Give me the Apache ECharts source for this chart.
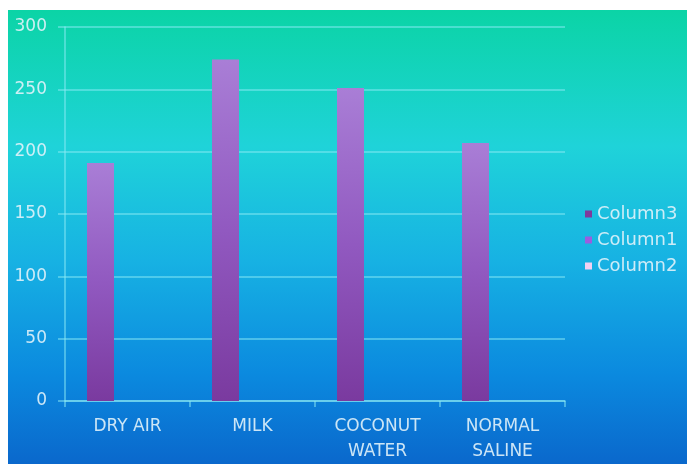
<!DOCTYPE html>
<html>
<head>
<meta charset="utf-8">
<script src="https://cdn.jsdelivr.net/npm/echarts@6/dist/echarts.min.js"></script>
<style>
  html, body { margin: 0; padding: 0; background: #ffffff; }
  #chart { width: 687px; height: 464px; }
</style>
</head>
<body>
<div id="chart"></div>
<script>
const categories = ['DRY AIR', 'MILK', 'COCONUT\nWATER', 'NORMAL\nSALINE'];
const column1Values = [191, 274, 251, 207];
const column2Values = [null, null, null, null];
const column3Values = [null, null, null, null];
const legendOrder = ['Column3', 'Column1', 'Column2'];
const yTicks = { min: 0, max: 300, interval: 50 };

const chart = echarts.init(document.getElementById('chart'), null, { renderer: 'canvas' });
const lightText = 'rgba(225,242,250,0.9)';
const gridLine = 'rgba(140,235,245,0.65)';
const fontFam = 'DejaVu Sans';
const barGrad = new echarts.graphic.LinearGradient(0, 0, 0, 1, [
  { offset: 0, color: '#a97ed6' },
  { offset: 0.5, color: '#9159c0' },
  { offset: 1, color: '#7a3a9f' }
]);

chart.setOption({
  backgroundColor: '#ffffff',
  textStyle: { fontFamily: fontFam },
  graphic: [{
    type: 'rect',
    z: -10,
    shape: { x: 8, y: 10, width: 679, height: 454 },
    style: {
      fill: new echarts.graphic.LinearGradient(0, 0, 0, 1, [
        { offset: 0, color: '#0bd4a6' },
        { offset: 0.3, color: '#1fd3d9' },
        { offset: 0.55, color: '#17b2e3' },
        { offset: 0.8, color: '#0b8adf' },
        { offset: 1, color: '#0a68cc' }
      ])
    }
  }],
  grid: { left: 65, right: 122, top: 27, bottom: 59, containLabel: false },
  legend: {
    orient: 'vertical',
    left: 580,
    top: 200,
    itemWidth: 7,
    itemHeight: 7,
    itemGap: 8,
    icon: 'rect',
    textStyle: { color: lightText, fontSize: 18, fontFamily: fontFam },
    data: [
      { name: 'Column3', itemStyle: { color: '#7e3a9c' } },
      { name: 'Column1', itemStyle: { color: '#9b5ddf' } },
      { name: 'Column2', itemStyle: { color: '#f2d0f2' } }
    ].filter(d => legendOrder.includes(d.name))
  },
  xAxis: {
    type: 'category',
    data: categories,
    axisLine: { show: true, lineStyle: { color: gridLine, width: 1.5 } },
    axisTick: { show: true, length: 6, lineStyle: { color: gridLine, width: 1.5 } },
    axisLabel: { color: lightText, fontSize: 17, margin: 13, lineHeight: 25, fontFamily: fontFam }
  },
  yAxis: {
    type: 'value',
    min: yTicks.min,
    max: yTicks.max,
    interval: yTicks.interval,
    axisLine: { show: true, lineStyle: { color: gridLine, width: 1.5 } },
    axisTick: { show: true, length: 7, lineStyle: { color: gridLine, width: 1.5 } },
    axisLabel: { color: lightText, fontSize: 17, margin: 18, fontFamily: fontFam },
    splitLine: { show: true, lineStyle: { color: gridLine, width: 1.5 } }
  },
  series: [
    { name: 'Column1', type: 'bar', data: column1Values, barWidth: 27, barGap: '0%', itemStyle: { color: barGrad } },
    { name: 'Column2', type: 'bar', data: column2Values, barWidth: 27, barGap: '0%', itemStyle: { color: '#f2d0f2' } },
    { name: 'Column3', type: 'bar', data: column3Values, barWidth: 27, barGap: '0%', itemStyle: { color: '#7e3a9c' } }
  ]
});
</script>
</body>
</html>
